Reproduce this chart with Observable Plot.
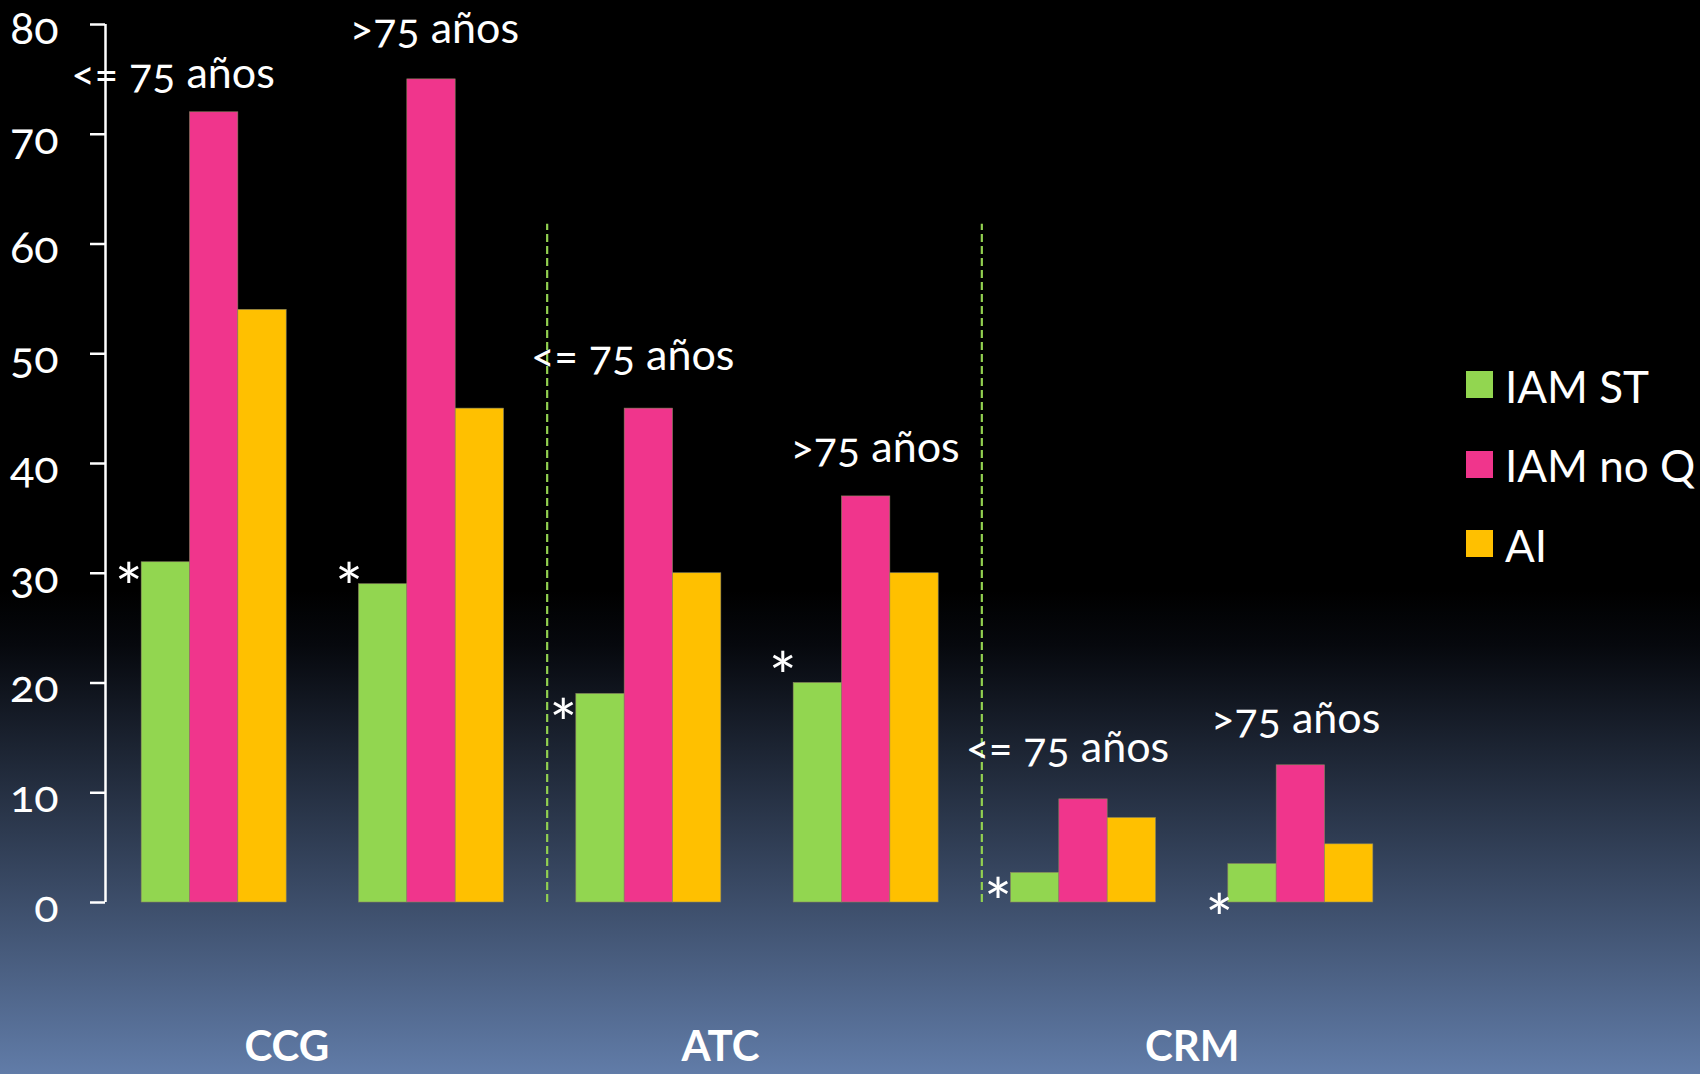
<!DOCTYPE html>
<html><head><meta charset="utf-8">
<script src="https://cdn.jsdelivr.net/npm/d3@7"></script>
<script src="https://cdn.jsdelivr.net/npm/@observablehq/plot@0.6"></script>
<style>
html,body{margin:0;padding:0;background:#000;}
#wrap{position:relative;width:1700px;height:1074px;font-family:Lato,"Open Sans",sans-serif;}
#legend{position:absolute;left:1466px;top:0;}
.item{position:absolute;left:0;height:27px;display:flex;align-items:center;white-space:nowrap;color:#fff;font-size:44px;}
.sw{width:27px;height:27px;margin-right:12px;flex:none;}
.item span{position:relative;top:1px;}
</style></head>
<body><div id="wrap"><div id="legend"></div></div>
<script>
// ---- data ----
const groups = ["CCG <=75", "CCG >75", "ATC <=75", "ATC >75", "CRM <=75", "CRM >75"];
const groupCategory = ["CCG", "CCG", "ATC", "ATC", "CRM", "CRM"];
const ageLabels = ["<= 75 años", ">75 años", "<= 75 años", ">75 años", "<= 75 años", ">75 años"];
const categories = ["CCG", "ATC", "CRM"];
const series = ["IAM ST", "IAM no Q", "AI"];
const iamST  = [31, 29, 19, 20, 2.7, 3.5];
const iamNoQ = [72, 75, 45, 37, 9.4, 12.5];
const ai     = [54, 45, 30, 30, 7.7, 5.3];
const yTicks = [0, 10, 20, 30, 40, 50, 60, 70, 80];

// ---- style / layout constants ----
const colors = ["#92d650", "#f0358c", "#ffc000"];
const FONT = 'Lato, "Open Sans", sans-serif';
const BW = 0.2224; // bar width in group units
const ageDx = [-41, 3, -16, 9, -16, -5];
const ageDy = [-38, -50, -52, -48, -51, -46];
const starDy = [13, -9, 17, -19, 17, 42];
const starDx = [-13, -10, -13, -11, -13, -9];
const catDx = {CCG: -36, ATC: -37, CRM: 0};

const valuesBySeries = [iamST, iamNoQ, ai];
const rows = [];
groups.forEach((g, i) => series.forEach((s, j) => {
  rows.push({i, series: s, value: valuesBySeries[j][i], x1: i + (j - 1.5) * BW, x2: i + (j - 0.5) * BW});
}));
const labelRows = groups.map((g, i) => ({i, label: ageLabels[i], top: Math.max(iamST[i], iamNoQ[i], ai[i])}));
const starRows = groups.map((g, i) => ({i, x: i - 1.5 * BW, y: iamST[i]}));
const catRows = categories.map(c => {
  const idx = groups.map((g, i) => i).filter(i => groupCategory[i] === c);
  return {c, x: d3.mean(idx)};
});
const seps = categories.slice(1).map(c => groupCategory.indexOf(c) - 0.5);

// per-datum pixel nudges applied after Plot positions each text through the scales
function offsetText(data, opts, dxs, dys) {
  return Plot.text(data, {
    ...opts,
    render(index, scales, values, dims, ctx, next) {
      const g = next(index, scales, values, dims, ctx);
      const texts = g.querySelectorAll("text");
      index.forEach((k, n) => {
        const t = texts[n];
        if (!t) return;
        const ox = dxs(data[k], k), oy = dys(data[k], k);
        const tr = t.getAttribute("transform");
        const m = tr && /translate\(\s*([-\d.e]+)\s*[, ]\s*([-\d.e]+)\s*\)/.exec(tr);
        if (m) {
          t.setAttribute("transform", tr.replace(m[0], `translate(${+m[1] + ox},${+m[2] + oy})`));
        } else {
          t.setAttribute("x", (+t.getAttribute("x") || 0) + ox);
          t.setAttribute("y", (+t.getAttribute("y") || 0) + oy);
        }
      });
      return g;
    }
  });
}

const chart = Plot.plot({
  width: 1700,
  height: 1074,
  marginLeft: 105,
  marginRight: 291,
  marginTop: 24,
  marginBottom: 172,
  style: {background: "linear-gradient(to bottom, #000 0%, #000 55%, #06080d 60%, #617ca8 100%)", fontFamily: FONT, color: "#fff", overflow: "visible"},
  x: {domain: [-0.5, 5.5], axis: null},
  y: {domain: [0, 80], axis: null},
  color: {domain: series, range: colors},
  marks: [
    Plot.ruleX(seps, {x: d => d, y1: 0, y2: 61.8, dx: 7, stroke: "#92d050", strokeWidth: 2.2, strokeDasharray: "8,4"}),
    Plot.rectY(rows, {x1: "x1", x2: "x2", y: "value", fill: "series", stroke: "#8a8660", strokeWidth: 0.6}),
    Plot.ruleX([-0.5], {y1: 0, y2: 80, stroke: "#fff", strokeWidth: 2.5}),
    Plot.axisY({ticks: yTicks, tickSize: 15, text: null, stroke: "#fff", strokeWidth: 2.5, strokeOpacity: 1}),
    Plot.text(yTicks, {x: () => -0.5, y: d => d, text: d => String(d), dx: -47, dy: 5, textAnchor: "end", fill: "#fff", fontSize: 45, fontVariant: "oldstyle-nums"}),
    offsetText(labelRows, {x: "i", y: "top", text: "label", fill: "#fff", fontSize: 43, fontVariant: "oldstyle-nums"},
      (d) => ageDx[d.i], (d) => ageDy[d.i]),
    offsetText(starRows, {x: "x", y: "y", text: () => "*", fill: "#fff", fontSize: 66},
      (d) => starDx[d.i], (d) => starDy[d.i] + 16),
    offsetText(catRows, {x: "x", y: () => 0, text: "c", fill: "#fff", fontSize: 42, fontWeight: "bold"},
      (d) => catDx[d.c], () => 145),
  ]
});
document.getElementById("wrap").insertBefore(chart, document.getElementById("legend"));

// legend
const legend = document.getElementById("legend");
series.forEach((s, j) => {
  const item = document.createElement("div");
  item.className = "item";
  item.style.top = (371 + j * 79.5) + "px";
  const sw = document.createElement("div");
  sw.className = "sw";
  sw.style.background = colors[j];
  const tx = document.createElement("span");
  tx.textContent = s;
  item.appendChild(sw); item.appendChild(tx);
  legend.appendChild(item);
});
</script></body></html>
